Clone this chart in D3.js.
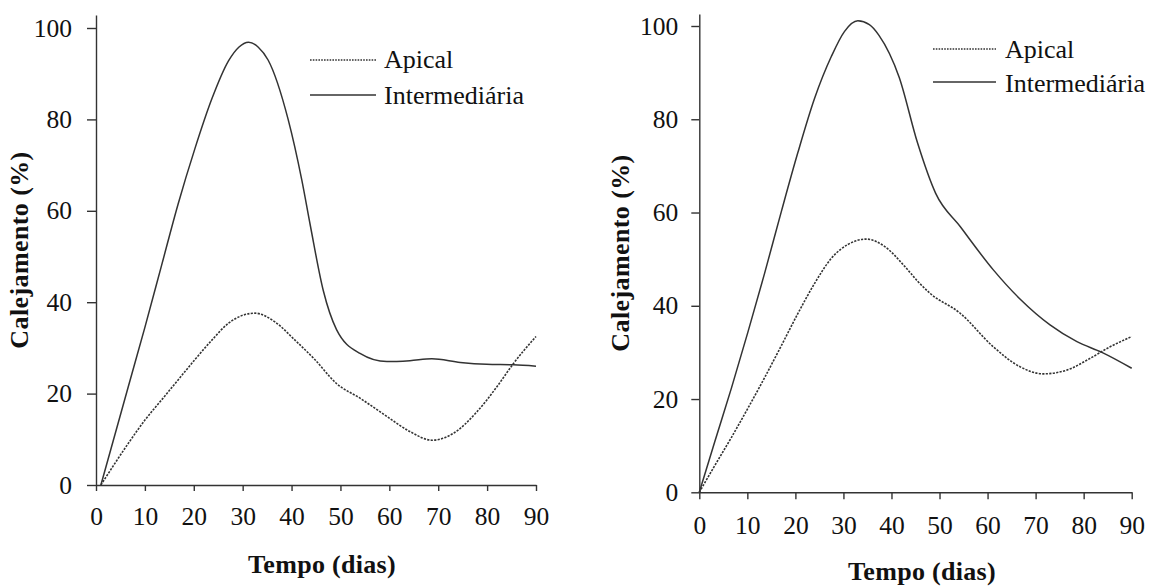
<!DOCTYPE html>
<html>
<head>
<meta charset="utf-8">
<script src="https://cdn.jsdelivr.net/npm/d3@7"></script>
<style>
  html, body { margin: 0; padding: 0; background: #fff; }
  svg { display: block; }
</style>
</head>
<body>
<svg id="chart" width="1149" height="587"></svg>
<script>
// Shared axis ticks and labels
const xTicks = [0, 10, 20, 30, 40, 50, 60, 70, 80, 90];
const yTicks = [0, 20, 40, 60, 80, 100];
const seriesNames = ["Apical", "Intermediária"];
const xTitle = "Tempo (dias)";
const yTitle = "Calejamento (%)";

// Left panel: callus formation (%) over time (days)
const leftApicalDays   = [1, 6.6, 10, 13.4, 16.8, 20.2, 23.7, 27.1, 32.5, 36.6, 40.7, 44.8, 49.2, 54, 59.5, 64.2, 68.7, 73.1, 77.9, 82, 85.4, 90];
const leftApicalValues = [0, 9.1, 14.2, 18.6, 23.0, 27.4, 31.7, 35.4, 37.6, 35.7, 31.7, 27.4, 22.2, 19.0, 15.0, 11.7, 9.8, 11.3, 16.0, 21.5, 26.6, 32.5];
const leftInterDays    = [1, 6.6, 10, 13.4, 16.8, 20.2, 23.7, 27.1, 29.2, 31.2, 33.2, 35.2, 39.3, 42.1, 43.8, 46.5, 49.2, 54, 59.5, 64.2, 68.7, 74.5, 79.9, 85.4, 90];
const leftInterValues  = [0, 21.5, 34.5, 48.0, 61.5, 73.5, 84.5, 92.8, 95.8, 96.9, 95.8, 93.0, 80.0, 66.7, 57.0, 42.5, 34.0, 28.8, 27.0, 27.2, 27.6, 26.8, 26.4, 26.3, 26.0];

// Right panel
const rightApicalDays   = [0, 3.2, 6.7, 10.1, 13.6, 17.1, 20.5, 24.0, 27.5, 31.0, 34.8, 38.6, 42.8, 45.5, 48.0, 54.3, 61.2, 66.8, 71.6, 76.5, 81.3, 85.5, 90];
const rightApicalValues = [0, 5.7, 11.8, 18.0, 24.6, 31.5, 38.3, 44.8, 50.2, 53.2, 54.3, 52.7, 48.4, 45.2, 42.7, 38.4, 31.2, 26.9, 25.4, 26.2, 28.7, 31.2, 33.4];
const rightInterDays    = [0, 3.2, 6.7, 10.1, 13.6, 17.1, 20.5, 24.0, 27.5, 30.2, 33.0, 35.4, 37.4, 41.6, 45.4, 49.2, 54.3, 61.2, 66.8, 73.0, 78.6, 83.8, 90];
const rightInterValues  = [0, 10.8, 22.4, 34.3, 47.0, 60.3, 72.8, 84.5, 93.5, 98.8, 101.1, 100.3, 98.0, 89.0, 75.0, 64.1, 57.0, 47.7, 41.4, 35.9, 32.3, 30.0, 26.6];

const zip = (xs, ys) => xs.map((d, i) => [d, ys[i]]);

const panels = [
  {
    xLeft: 96, xRight: 536, yZero: 485, yHundred: 28, yTop: 15,
    yTick: 9, xTick: 6, yPad: 15, xPad: 16,
    xTitleX: 322, xTitleY: 573, yTitleX: 28, yTitleY: 250,
    legendX1: 310, legendX2: 376, legendTextX: 384, legendY: [60, 95], legendTextY: [68, 104],
    apical: zip(leftApicalDays, leftApicalValues),
    inter: zip(leftInterDays, leftInterValues)
  },
  {
    xLeft: 699.3, xRight: 1131.7, yZero: 492.3, yHundred: 26, yTop: 14,
    yTick: 8, xTick: 7, yPad: 13, xPad: 17,
    xTitleX: 922, xTitleY: 580, yTitleX: 629, yTitleY: 253,
    legendX1: 933, legendX2: 996, legendTextX: 1005, legendY: [49, 82], legendTextY: [58, 92],
    apical: zip(rightApicalDays, rightApicalValues),
    inter: zip(rightInterDays, rightInterValues)
  }
];

const svg = d3.select("#chart");
svg.append("rect").attr("width", 1149).attr("height", 587).attr("fill", "#fff");

const serif = "'Liberation Serif', 'Times New Roman', serif";
const axisColor = "#333";
const lineColor = "#333";
const dashPattern = "2.2,1.3";

panels.forEach(p => {
  const g = svg.append("g");
  const x = d3.scaleLinear().domain([0, 90]).range([p.xLeft, p.xRight]);
  const y = d3.scaleLinear().domain([0, 100]).range([p.yZero, p.yHundred]);
  const yAxisScale = d3.scaleLinear().domain([0, y.invert(p.yTop)]).range([p.yZero, p.yTop]);

  // Axes
  const xAxis = g.append("g")
    .attr("transform", `translate(0,${p.yZero})`)
    .call(d3.axisBottom(x).tickValues(xTicks).tickSize(p.xTick).tickSizeOuter(0).tickPadding(p.xPad));
  const yAxis = g.append("g")
    .attr("transform", `translate(${p.xLeft},0)`)
    .call(d3.axisLeft(yAxisScale).tickValues(yTicks).tickSize(p.yTick).tickSizeOuter(0).tickPadding(p.yPad));

  [xAxis, yAxis].forEach(a => {
    a.selectAll("path, line").attr("stroke", axisColor).attr("stroke-width", 1.4);
    a.selectAll("text")
      .attr("font-family", serif)
      .attr("font-size", 25.5)
      .attr("fill", "#111");
  });

  // Series lines
  const line = d3.line()
    .x(d => x(d[0]))
    .y(d => y(d[1]))
    .curve(d3.curveMonotoneX);

  g.append("path")
    .datum(p.apical)
    .attr("d", line)
    .attr("fill", "none")
    .attr("stroke", lineColor)
    .attr("stroke-width", 1.6)
    .attr("stroke-dasharray", dashPattern);

  g.append("path")
    .datum(p.inter)
    .attr("d", line)
    .attr("fill", "none")
    .attr("stroke", lineColor)
    .attr("stroke-width", 1.5);

  // Axis titles
  g.append("text")
    .attr("x", p.xTitleX)
    .attr("y", p.xTitleY)
    .attr("text-anchor", "middle")
    .attr("font-family", serif)
    .attr("font-weight", "bold")
    .attr("font-size", 26)
    .attr("letter-spacing", 0.3)
    .attr("fill", "#111")
    .text(xTitle);

  g.append("text")
    .attr("transform", `translate(${p.yTitleX},${p.yTitleY}) rotate(-90)`)
    .attr("text-anchor", "middle")
    .attr("font-family", serif)
    .attr("font-weight", "bold")
    .attr("font-size", 26)
    .attr("letter-spacing", 0.4)
    .attr("fill", "#111")
    .text(yTitle);

  // Legend
  const legend = g.append("g");
  seriesNames.forEach((name, i) => {
    legend.append("line")
      .attr("x1", p.legendX1).attr("x2", p.legendX2)
      .attr("y1", p.legendY[i]).attr("y2", p.legendY[i])
      .attr("stroke", lineColor)
      .attr("stroke-width", i === 0 ? 1.3 : 1.5)
      .attr("stroke-dasharray", i === 0 ? "1.6,1.2" : null);
    legend.append("text")
      .attr("x", p.legendTextX)
      .attr("y", p.legendTextY[i])
      .attr("font-family", serif)
      .attr("font-size", 26)
      .attr("fill", "#111")
      .text(name);
  });
});
</script>
</body>
</html>
